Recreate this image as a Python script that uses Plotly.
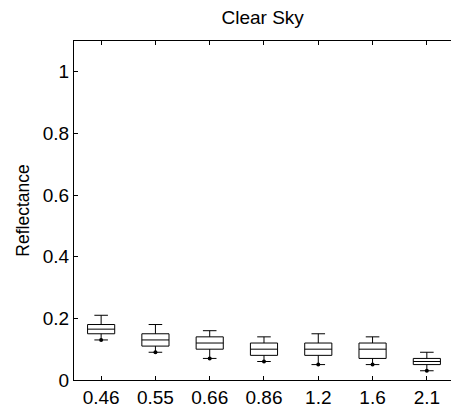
import plotly.graph_objects as go

categories = ["0.46", "0.55", "0.66", "0.86", "1.2", "1.6", "2.1"]
upper = [0.21, 0.18, 0.16, 0.14, 0.15, 0.14, 0.09]
q3 = [0.18, 0.15, 0.14, 0.12, 0.12, 0.12, 0.07]
median = [0.165, 0.13, 0.12, 0.10, 0.10, 0.10, 0.06]
q1 = [0.15, 0.11, 0.10, 0.08, 0.08, 0.07, 0.05]
lower = [0.13, 0.09, 0.07, 0.06, 0.05, 0.05, 0.03]
y_ticks = [0, 0.2, 0.4, 0.6, 0.8, 1]
y_tick_text = ["0", "0.2", "0.4", "0.6", "0.8", "1"]

FONT = "Liberation Sans, Arial, sans-serif"

fig = go.Figure()
fig.add_trace(go.Box(
    x=categories, q1=q1, median=median, q3=q3,
    lowerfence=lower, upperfence=upper,
    width=0.5, whiskerwidth=0.5,
    line=dict(color="black", width=1),
    fillcolor="rgba(255,255,255,0)",
    boxpoints=False, showlegend=False, hoverinfo="skip",
))
fig.add_trace(go.Scatter(
    x=categories, y=lower, mode="markers",
    marker=dict(color="black", size=4),
    showlegend=False, hoverinfo="skip",
))

fig.update_layout(
    width=451, height=410,
    margin=dict(l=74, r=0, t=41, b=30, pad=0),
    paper_bgcolor="white", plot_bgcolor="white",
    font=dict(family=FONT, size=19, color="black"),
    title=dict(text="Clear Sky", x=0.5825, xanchor="center", y=1 - 17/410, yanchor="middle",
               font=dict(family=FONT, size=19, color="black")),
    showlegend=False,
)
fig.update_xaxes(
    type="category", categoryorder="array", categoryarray=categories,
    range=[-0.5, 6.445],
    showline=True, linecolor="black", linewidth=1, mirror="ticks",
    ticks="inside", ticklen=4, tickcolor="black", tickwidth=1,
    showgrid=False, zeroline=False,
    tickfont=dict(family=FONT, size=19, color="black"),
)
fig.update_yaxes(
    range=[0, 1.1], tickvals=y_ticks, ticktext=y_tick_text,
    showline=True, linecolor="black", linewidth=1, mirror=False,
    ticks="inside", ticklen=4, tickcolor="black", tickwidth=1,
    showgrid=False, zeroline=False,
    title=dict(text="Reflectance", font=dict(family=FONT, size=17.5, color="black"), standoff=8),
    tickfont=dict(family=FONT, size=19, color="black"),
)

fig.write_html("out.html")
